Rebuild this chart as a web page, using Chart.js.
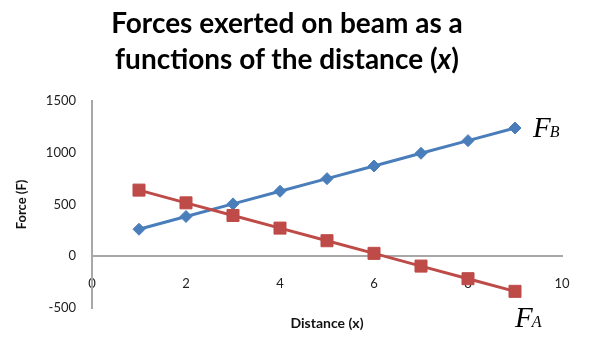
<!DOCTYPE html>
<html>
<head>
<meta charset="utf-8">
<script src="https://cdn.jsdelivr.net/npm/chart.js@4"></script>
<style>
  html, body { margin: 0; padding: 0; background: #fff; }
  #wrap { position: relative; width: 612px; height: 355px; }
  #title {
    position: absolute; left: 0; top: 4px; width: 574px;
    text-align: center; font-family: Lato, "Open Sans", sans-serif;
    font-weight: bold; font-size: 28px; line-height: 36px; color: #000;
  }
  canvas { position: absolute; left: 0; top: 0; }
</style>
</head>
<body>
<div id="wrap">
  <canvas id="c" width="612" height="355"></canvas>
  <div id="title">Forces exerted on beam as a<br>functions of the distance (<i>x</i>)</div>
</div>
<script>
const distances = [1, 2, 3, 4, 5, 6, 7, 8, 9];
const forceA = [639, 516, 394, 272, 150, 28, -95, -217, -339];
const forceB = [261, 384, 506, 628, 750, 872, 995, 1117, 1239];
const xMin = 0, xMax = 10, xStep = 2;
const yMin = -500, yMax = 1500, yStep = 500;
const yTitle = 'Force (F)';
const xTitle = 'Distance (x)';
const blue = '#4A7EBB';
const red = '#BE4B48';

const labelPlugin = {
  id: 'labels',
  afterDraw(chart) {
    const ctx = chart.ctx;
    const area = chart.chartArea;
    ctx.save();
    // x axis title
    ctx.font = 'bold 14px Lato, "Open Sans", sans-serif';
    ctx.fillStyle = '#111';
    ctx.textAlign = 'center';
    ctx.textBaseline = 'middle';
    ctx.fillText(xTitle, (area.left + area.right) / 2, 323);
    // series labels
    const drawLabel = (dsIndex, sub, dx, dy) => {
      const meta = chart.getDatasetMeta(dsIndex);
      const pt = meta.data[meta.data.length - 1];
      ctx.textAlign = 'left';
      ctx.textBaseline = 'alphabetic';
      ctx.fillStyle = '#000';
      ctx.font = 'italic 29px "Liberation Serif", "DejaVu Serif", serif';
      const x = pt.x + dx, y = pt.y + dy;
      ctx.fillText('F', x, y);
      const w = ctx.measureText('F').width;
      ctx.font = 'italic 16px "Liberation Serif", "DejaVu Serif", serif';
      ctx.fillText(sub, x + w - 1, y);
    };
    drawLabel(1, 'B', 18, 9);
    drawLabel(0, 'A', 0, 36);
    ctx.restore();
  }
};

new Chart(document.getElementById('c'), {
  type: 'line',
  data: {
    datasets: [
      {
        label: 'FA',
        data: distances.map((d, i) => ({ x: d, y: forceA[i] })),
        borderColor: red,
        backgroundColor: red,
        borderWidth: 3,
        pointStyle: 'rect',
        pointRadius: 8.5,
        pointBorderWidth: 1,
        pointBackgroundColor: red,
        pointBorderColor: red,
        tension: 0
      },
      {
        label: 'FB',
        data: distances.map((d, i) => ({ x: d, y: forceB[i] })),
        borderColor: blue,
        backgroundColor: blue,
        borderWidth: 3,
        pointStyle: 'rectRot',
        pointRadius: 6,
        pointBorderWidth: 1,
        pointBackgroundColor: blue,
        pointBorderColor: blue,
        tension: 0
      }
    ]
  },
  options: {
    responsive: false,
    animation: false,
    events: [],
    layout: { padding: { left: 0, right: 50, top: 101, bottom: 47 } },
    plugins: {
      legend: { display: false },
      title: { display: false },
      tooltip: { enabled: false }
    },
    scales: {
      x: {
        type: 'linear',
        position: { y: 0 },
        min: xMin, max: xMax,
        grid: { display: false, drawTicks: false },
        border: { display: true, color: '#A8A8A8', width: 2 },
        ticks: {
          stepSize: xStep, padding: 20, maxRotation: 0,
          color: '#222',
          callback: v => String(v),
          font: { family: 'Lato, "Open Sans", sans-serif', size: 13 }
        }
      },
      y: {
        type: 'linear',
        position: 'left',
        min: yMin, max: yMax,
        afterFit(scale) { scale.width = 92; },
        grid: { display: false, drawTicks: false },
        border: { display: true, color: '#A8A8A8', width: 2 },
        title: {
          display: true, text: yTitle, color: '#111',
          padding: { top: 14, bottom: 0 },
          font: { family: 'Lato, "Open Sans", sans-serif', size: 13, weight: 'bold' }
        },
        ticks: {
          stepSize: yStep, padding: 16,
          color: '#222',
          callback: v => String(v),
          font: { family: 'Lato, "Open Sans", sans-serif', size: 13 }
        }
      }
    }
  },
  plugins: [labelPlugin]
});
</script>
</body>
</html>
